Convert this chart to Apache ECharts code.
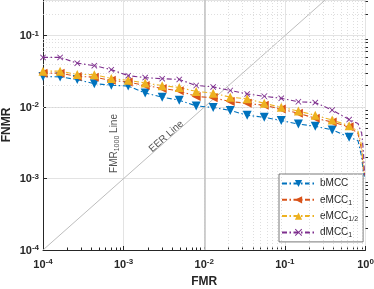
<!DOCTYPE html>
<html><head><meta charset="utf-8">
<script src="https://cdn.jsdelivr.net/npm/echarts@6/dist/echarts.min.js"></script>
<style>html,body{margin:0;padding:0;background:#fff}#c{width:374px;height:289px}</style>
</head><body><div id="c"></div>
<script>
// ---- data ----
const fmr = [1.0e-4, 1.63e-4, 2.66e-4, 4.33e-4, 7.03e-4, 1.14e-3, 1.85e-3, 3.01e-3, 4.90e-3, 7.94e-3, 1.29e-2, 2.10e-2, 3.41e-2, 5.55e-2, 9.02e-2, 0.147, 0.238, 0.386, 0.627];
const fmrTail = [0.807, 0.897, 0.94, 0.975];
const bMCC = [0.0269, 0.0265, 0.0243, 0.0213, 0.0203, 0.0197, 0.0158, 0.0138, 0.0125, 0.0104, 0.0099, 0.0090, 0.0077, 0.0072, 0.0065, 0.0058, 0.0054, 0.0048, 0.0038];
const bMCCTail = [0.0034, 0.0020, 0.0012, 0.00107];
const eMCC1 = [0.0299, 0.0299, 0.0269, 0.0263, 0.0237, 0.0224, 0.0201, 0.0183, 0.0169, 0.0141, 0.0135, 0.0120, 0.0113, 0.0106, 0.0094, 0.0082, 0.0070, 0.0062, 0.0053];
const eMCC1Tail = [0.0043, 0.0025, 0.0014, 0.0011];
const eMCC12 = [0.0319, 0.0319, 0.0287, 0.0285, 0.0252, 0.0237, 0.0218, 0.0200, 0.0188, 0.0166, 0.0157, 0.0138, 0.0131, 0.0113, 0.0100, 0.0088, 0.0077, 0.0066, 0.0055];
const eMCC12Tail = [0.0046, 0.0029, 0.0015, 0.0011];
const dMCC1 = [0.0497, 0.0497, 0.0413, 0.0381, 0.0335, 0.0276, 0.0259, 0.0250, 0.0244, 0.0201, 0.0192, 0.0171, 0.0153, 0.0142, 0.0133, 0.0119, 0.0116, 0.0091, 0.0067];
const dMCC1Tail = [0.0059, 0.0043, 0.0025, 0.0011];
const seriesNames = ['bMCC', 'eMCC1', 'eMCC1/2', 'dMCC1'];
const legendLabels = ['bMCC', 'eMCC{s|1}', 'eMCC{s|1/2}', 'dMCC{s|1}'];
const xRange = [1e-4, 1];
const yRange = [1e-4, 0.3162];
const decades = [1e-4, 1e-3, 1e-2, 1e-1];
const minorMult = [2, 3, 4, 5, 6, 7, 8, 9];
const eerLine = [1e-4, 0.3162];
const refLinesX = [1e-3, 1e-2];
const annotFMR = [7.65e-4, 3.1e-3];
const annotEER = [3.37e-3, 3.89e-3];

// ---- helpers ----
const FONT = 'Liberation Sans, Arial, Helvetica, sans-serif';
const TXT = '#262626';
const minorX = [], minorY = [];
decades.forEach(d => minorMult.forEach(m => { minorX.push(d * m); if (d * m <= yRange[1]) minorY.push(d * m); }));
function mk(xs, ys, tx, ty) {
  const out = xs.map((x, i) => [x, ys[i]]);
  tx.forEach((x, i) => out.push({ value: [x, ty[i]], symbol: 'none' }));
  return out;
}
function powLabel(v) {
  const l = Math.log10(v), e = Math.round(l);
  if (Math.abs(l - e) > 1e-6) return '';
  return '{b|10}{s|' + e + '}';
}
const tickRich = {
  b: { fontSize: 11, fontWeight: 'bold', fontFamily: FONT, color: TXT, lineHeight: 12, verticalAlign: 'bottom' },
  s: { fontSize: 8, fontWeight: 'bold', fontFamily: FONT, color: TXT, lineHeight: 8, padding: [0, 0, 7, 0], verticalAlign: 'top' }
};
const dash = [5, 2.5, 1.5, 2.5];
const xPath = 'path://M0,1L1,0L5,4L9,0L10,1L6,5L10,9L9,10L5,6L1,10L0,9L4,5Z';

function lineSeries(name, data, color, symbol, rot, size) {
  return {
    name, type: 'line', data, z: 5,
    lineStyle: { color, width: 1.1, type: dash },
    itemStyle: { color },
    symbol, symbolRotate: rot, symbolSize: size,
    showSymbol: true, showAllSymbol: true, animation: false
  };
}

const chart = echarts.init(document.getElementById('c'), null, { renderer: 'canvas' });
chart.setOption({
  animation: false,
  backgroundColor: '#fff',
  grid: { left: 43, right: 8.5, top: 0, bottom: 39, containLabel: false, outerBoundsMode: 'none' },
  xAxis: [{
    type: 'log', logBase: 10, min: xRange[0], max: xRange[1],
    name: 'FMR', nameLocation: 'middle', nameGap: 26, nameMoveOverlap: false,
    nameTextStyle: { fontSize: 12, fontWeight: 'bold', fontFamily: FONT, color: TXT },
    axisLine: { show: true, onZero: false, lineStyle: { color: TXT, width: 1 } },
    axisTick: { show: true, inside: true, length: 4, lineStyle: { color: TXT } },
    axisLabel: { formatter: powLabel, rich: tickRich, margin: 8, showMaxLabel: true, hideOverlap: false },
    splitLine: { show: true, lineStyle: { color: '#e3e3e3', width: 1 } }
  }, {
    type: 'value', min: -4, max: 0, position: 'bottom',
    axisLine: { show: false }, axisLabel: { show: false }, splitLine: { show: false },
    axisTick: { show: true, inside: true, length: 2.5, lineStyle: { color: TXT }, customValues: minorX.map(v => Math.log10(v)) }
  }],
  yAxis: [{
    type: 'log', logBase: 10, min: yRange[0], max: yRange[1],
    name: 'FNMR', nameLocation: 'middle', nameGap: 30, nameMoveOverlap: false,
    nameTextStyle: { fontSize: 12, fontWeight: 'bold', fontFamily: FONT, color: TXT },
    axisLine: { show: true, onZero: false, lineStyle: { color: TXT, width: 1 } },
    axisTick: { show: true, inside: true, length: 4, lineStyle: { color: TXT } },
    axisLabel: { formatter: powLabel, rich: tickRich, margin: 4, showMaxLabel: false },
    splitLine: { show: true, lineStyle: { color: '#e3e3e3', width: 1 } }
  }, {
    type: 'value', min: -4, max: Math.log10(yRange[1]), position: 'left',
    axisLine: { show: false }, axisLabel: { show: false }, splitLine: { show: false },
    axisTick: { show: true, inside: true, length: 2.5, lineStyle: { color: TXT }, customValues: minorY.map(v => Math.log10(v)) }
  }],
  legend: {
    orient: 'vertical', left: 279, top: 174,
    padding: [3, 5, 3, 2], itemGap: 3.3, itemWidth: 33, itemHeight: 9,
    backgroundColor: '#fff', borderColor: '#555', borderWidth: 0.8,
    data: seriesNames,
    formatter: n => legendLabels[seriesNames.indexOf(n)],
    textStyle: {
      fontSize: 10, fontFamily: FONT, color: TXT, lineHeight: 13,
      rich: { s: { fontSize: 7, fontFamily: FONT, color: TXT, lineHeight: 7, verticalAlign: 'bottom' } }
    }
  },
  series: [
    {
      name: 'grid', type: 'line', data: eerLine.map(v => [v, v]), z: 2, silent: true,
      symbol: 'none', lineStyle: { color: '#bdbdbd', width: 1 },
      markLine: {
        silent: true, symbol: 'none', label: { show: false }, animation: false,
        data: [
          ...minorX.map(v => ({ xAxis: v, lineStyle: { color: '#d6d6d6', width: 0.8, type: [1, 2] } })),
          ...minorY.map(v => ({ yAxis: v, lineStyle: { color: '#d6d6d6', width: 0.8, type: [1, 2] } })),
          ...refLinesX.map(v => ({ xAxis: v, lineStyle: { color: '#c6c6c6', width: 1.6, type: 'solid' } }))
        ]
      }
    },
    {
      name: 'annot', type: 'scatter', z: 4, silent: true, symbolSize: 0,
      data: [
        { value: annotFMR, label: { show: true, position: 'inside', rotate: 90, align: 'center', verticalAlign: 'middle',
          formatter: '{n|FMR}{u|1000}{n| Line}',
          rich: { n: { fontSize: 10, fontFamily: FONT, color: TXT, lineHeight: 12 }, u: { fontSize: 7, fontFamily: FONT, color: TXT, lineHeight: 7, verticalAlign: 'bottom' } } } },
        { value: annotEER, label: { show: true, position: 'inside', rotate: 41.5, align: 'center', verticalAlign: 'middle',
          formatter: 'EER Line', fontSize: 10, fontFamily: FONT, color: TXT } }
      ]
    },
    lineSeries('bMCC', mk(fmr, bMCC, fmrTail, bMCCTail), '#0072BD', 'triangle', 180, 9),
    lineSeries('eMCC1', mk(fmr, eMCC1, fmrTail, eMCC1Tail), '#D95319', 'triangle', 90, 9),
    lineSeries('eMCC1/2', mk(fmr, eMCC12, fmrTail, eMCC12Tail), '#EDB120', 'triangle', 0, 9),
    lineSeries('dMCC1', mk(fmr, dMCC1, fmrTail, dMCC1Tail), '#7E2F8E', xPath, 0, 6)
  ]
});
</script></body></html>
